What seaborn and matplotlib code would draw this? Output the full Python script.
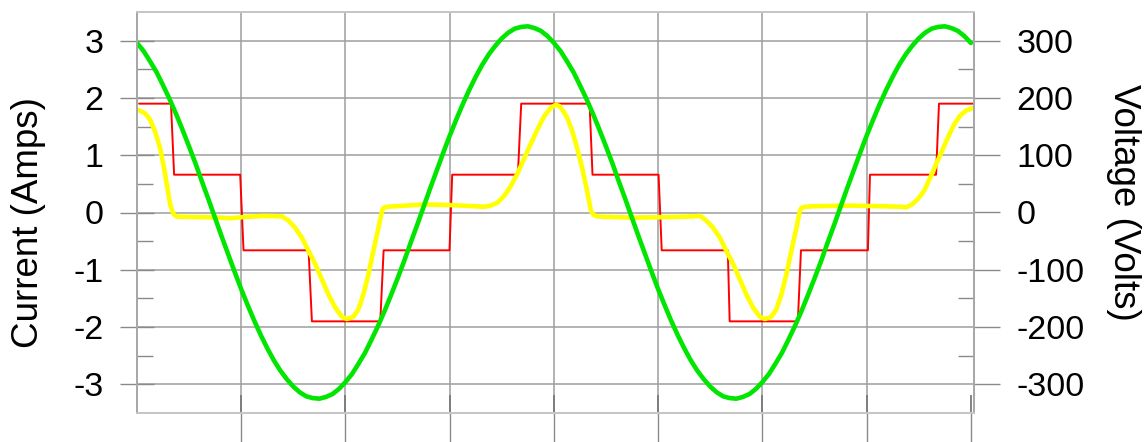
import matplotlib
matplotlib.use("Agg")
import matplotlib.pyplot as plt
import pandas as pd
import seaborn as sns
from matplotlib.ticker import FixedLocator

# ---------------- data (time in ms) ----------------
voltage_t = [0, 0.3125, 0.625, 0.9375, 1.25, 1.5625, 1.875, 2.1875,
             2.5, 2.8125, 3.125, 3.4375, 3.75, 4.0625, 4.375, 4.6875,
             5, 5.3125, 5.625, 5.9375, 6.25, 6.5625, 6.875, 7.1875,
             7.5, 7.8125, 8.125, 8.4375, 8.75, 9.0625, 9.375, 9.6875,
             10, 10.3125, 10.625, 10.9375, 11.25, 11.5625, 11.875, 12.1875,
             12.5, 12.8125, 13.125, 13.4375, 13.75, 14.0625, 14.375, 14.6875,
             15, 15.3125, 15.625, 15.9375, 16.25, 16.5625, 16.875, 17.1875,
             17.5, 17.8125, 18.125, 18.4375, 18.75, 19.0625, 19.375, 19.6875,
             20, 20.3125, 20.625, 20.9375, 21.25, 21.5625, 21.875, 22.1875,
             22.5, 22.8125, 23.125, 23.4375, 23.75, 24.0625, 24.375, 24.6875,
             25, 25.3125, 25.625, 25.9375, 26.25, 26.5625, 26.875, 27.1875,
             27.5, 27.8125, 28.125, 28.4375, 28.75, 29.0625, 29.375, 29.6875,
             30, 30.3125, 30.625, 30.9375, 31.25, 31.5625, 31.875, 32.1875,
             32.5, 32.8125, 33.125, 33.4375, 33.75, 34.0625, 34.375, 34.6875,
             35, 35.3125, 35.625, 35.9375, 36.25, 36.5625, 36.875, 37.1875,
             37.5, 37.8125, 38.125, 38.4375, 38.75, 39.0625, 39.375, 39.6875,
             40]
voltage_v = [296, 282, 264, 245, 222, 198, 172, 144,
             115, 85, 53, 22, -10, -42, -73, -104,
             -134, -162, -189, -214, -237, -258, -276, -291,
             -304, -314, -321, -324, -325, -322, -317, -308,
             -296, -282, -264, -245, -222, -198, -172, -144,
             -115, -85, -53, -22, 10, 42, 73, 104,
             134, 162, 189, 214, 237, 258, 276, 291,
             304, 314, 321, 324, 325, 322, 317, 308,
             296, 282, 264, 245, 222, 198, 172, 144,
             115, 85, 53, 22, -10, -42, -73, -104,
             -134, -162, -189, -214, -237, -258, -276, -291,
             -304, -314, -321, -324, -325, -322, -317, -308,
             -296, -282, -264, -245, -222, -198, -172, -144,
             -115, -85, -53, -22, 10, 42, 73, 104,
             134, 162, 189, 214, 237, 258, 276, 291,
             304, 314, 321, 324, 325, 322, 317, 308,
             296]

current_t = [0.07, 0.39, 0.63, 0.87, 1.11, 1.27, 1.43, 1.59, 1.75, 1.90,
             2.07, 2.87, 3.67, 4.47, 5.11, 6.07, 6.63, 6.95, 7.27, 7.59,
             7.91, 8.23, 8.55, 8.87, 9.18, 9.51, 9.83, 10.07, 10.38, 10.62,
             10.86, 11.10, 11.34, 11.58, 11.75, 11.82, 12.00, 12.47, 13.74, 15.02,
             16.14, 16.65, 16.96, 17.29, 17.61, 17.93, 18.25, 18.57, 18.89, 19.21,
             19.53, 19.85, 20.09, 20.25, 20.39, 20.63, 20.87, 21.11, 21.35, 21.59,
             21.78, 21.93, 22.12, 23.80, 25.42, 26.53, 27.01, 27.31, 27.64, 27.96,
             28.27, 28.60, 28.92, 29.23, 29.55, 29.88, 30.12, 30.43, 30.67, 30.91,
             31.15, 31.39, 31.63, 31.79, 31.87, 32.05, 32.53, 34.21, 35.65, 36.70,
             36.89, 37.18, 37.47, 37.76, 38.04, 38.33, 38.62, 38.91, 39.19, 39.48,
             39.77, 40.06]
current_a = [1.79, 1.73, 1.62, 1.41, 1.12, 0.83, 0.49, 0.14, -0.03, -0.07,
             -0.075, -0.08, -0.085, -0.10, -0.08, -0.06, -0.064, -0.07, -0.14, -0.27,
             -0.44, -0.67, -0.90, -1.17, -1.43, -1.66, -1.82, -1.86, -1.82, -1.69,
             -1.43, -1.08, -0.67, -0.27, 0.02, 0.08, 0.10, 0.11, 0.14, 0.13,
             0.11, 0.10, 0.12, 0.17, 0.29, 0.46, 0.68, 0.94, 1.20, 1.45,
             1.68, 1.83, 1.88, 1.86, 1.80, 1.66, 1.43, 1.13, 0.78, 0.38,
             0.02, -0.05, -0.07, -0.09, -0.08, -0.07, -0.06, -0.14, -0.27, -0.44,
             -0.67, -0.90, -1.17, -1.43, -1.66, -1.82, -1.86, -1.82, -1.69, -1.43,
             -1.08, -0.67, -0.27, 0.02, 0.08, 0.10, 0.11, 0.12, 0.11, 0.10,
             0.09, 0.14, 0.24, 0.38, 0.60, 0.84, 1.08, 1.32, 1.53, 1.69,
             1.78, 1.82]

step_t = [0.10, 1.63, 1.78, 4.95, 5.11, 8.23, 8.39, 11.67, 11.83, 14.99, 15.12,
          18.27, 18.43, 21.71, 21.85, 25.02, 25.17, 28.34, 28.43, 31.70, 31.85,
          35.06, 35.16, 38.33, 38.47, 40.11]
step_a = [1.90, 1.90, 0.66, 0.66, -0.66, -0.66, -1.90, -1.90, -0.66, -0.66, 0.66,
          0.66, 1.90, 1.90, 0.66, 0.66, -0.66, -0.66, -1.90, -1.90, -0.66, -0.66,
          0.66, 0.66, 1.90, 1.90]

time_ticks = [5, 10, 15, 20, 25, 30, 35, 40]
current_ticks = [-3, -2, -1, 0, 1, 2, 3]
current_minor = [-2.5, -1.5, -0.5, 0.5, 1.5, 2.5]
current_labels = ["-3", "-2", "-1", "0", "1", "2", "3"]
voltage_ticks = [-300, -200, -100, 0, 100, 200, 300]
voltage_minor = [-250, -150, -50, 50, 150, 250]
voltage_labels = ["-300", "-200", "-100", "0", "100", "200", "300"]

# ---------------- style ----------------
sns.set_style("white")
plt.rcParams['font.family'] = ['Liberation Sans', 'DejaVu Sans']
plt.rcParams['axes.unicode_minus'] = False
plt.rcParams['text.color'] = 'black'
plt.rcParams['axes.labelcolor'] = 'black'

GRID = '#9e9e9e'
TICK = '#8a8a8a'
PX = 0.72  # points per pixel at dpi 100

fig = plt.figure(figsize=(11.45, 4.42), dpi=100)
ax = fig.add_axes([137 / 1145, 29 / 442, 837 / 1145, 401 / 442])
ax2 = ax.twinx()

df_step = pd.DataFrame({'t': step_t, 'a': step_a})
df_cur = pd.DataFrame({'t': current_t, 'a': current_a})
df_volt = pd.DataFrame({'t': voltage_t, 'v': voltage_v})

sns.lineplot(data=df_step, x='t', y='a', ax=ax, color='#ff0000', lw=1.4,
             sort=False, estimator=None)
sns.lineplot(data=df_cur, x='t', y='a', ax=ax, color='#ffff00', lw=3.3,
             sort=False, estimator=None)
sns.lineplot(data=df_volt, x='t', y='v', ax=ax2, color='#00e600', lw=3.3,
             sort=False, estimator=None)

ax.set_xlim(0, 40.15)
ax.set_ylim(-3.5, 3.5)
ax2.set_ylim(-350, 350)

# x ticks
ax.xaxis.remove_overlapping_locs = False
ax.xaxis.set_major_locator(FixedLocator(time_ticks))
ax.xaxis.set_minor_locator(FixedLocator(time_ticks))
ax.tick_params(axis='x', which='major', direction='out', length=29 * PX,
               width=1.0, color=TICK, bottom=True, labelbottom=False)
ax.tick_params(axis='x', which='minor', direction='in', length=18 * PX,
               width=1.3, color='#7a7a7a', bottom=True, labelbottom=False)

# y ticks left
ax.set_yticks(current_ticks, current_labels)
ax.yaxis.set_minor_locator(FixedLocator(current_minor))
ax.tick_params(axis='y', which='major', direction='inout', length=34 * PX,
               width=1.0, color=TICK, labelsize=24.5, pad=12, labelcolor='black',
               left=True)
ax.tick_params(axis='y', which='minor', direction='in', length=16 * PX,
               width=1.0, color=TICK, left=True)

# y ticks right
ax2.set_yticks(voltage_ticks, voltage_labels)
ax2.yaxis.set_minor_locator(FixedLocator(voltage_minor))
ax2.tick_params(axis='y', which='major', direction='out', length=26 * PX,
                width=1.0, color=TICK, labelsize=24.5, pad=12, labelcolor='black',
                right=True)
ax2.tick_params(axis='y', which='minor', direction='in', length=16 * PX,
                width=1.0, color=TICK, right=True)

ax.grid(True, which='major', axis='both', color=GRID, lw=1.1)
ax.set_axisbelow(True)
ax2.grid(False)
ax.set_xlabel('')
ax.get_xgridlines()[-1].set_visible(False)

for a in (ax, ax2):
    a.spines['left'].set_color('#a8a8a8')
    a.spines['right'].set_color('#a8a8a8')
    a.spines['top'].set_color('#c6c6c6')
    a.spines['bottom'].set_color('#c6c6c6')
    for s in a.spines.values():
        s.set_linewidth(1.3)
        s.set_visible(True)

ax.set_ylabel('Current (Amps)', fontsize=26.5, color='black')
ax.yaxis.label.set_va('center')
ax.yaxis.set_label_coords(-0.130, 0.476)

ax2.set_ylabel('Voltage (Volts)', fontsize=26.5, rotation=270, color='black')
ax2.yaxis.label.set_va('center')
ax2.yaxis.set_label_coords(1.179, 0.525)

fig.savefig('out.png', dpi=100)
